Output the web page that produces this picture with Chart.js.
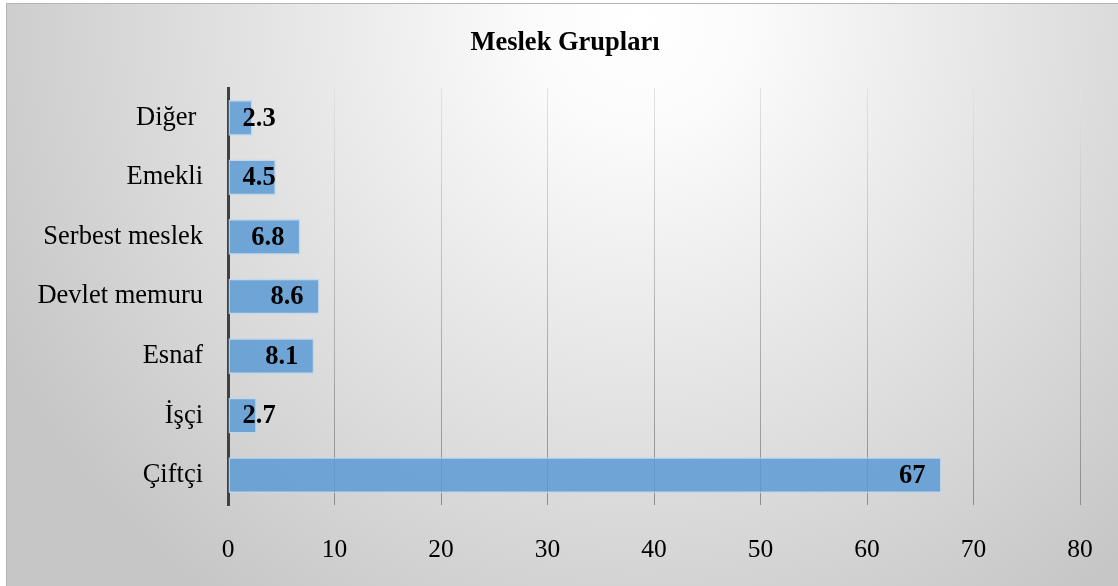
<!DOCTYPE html>
<html>
<head>
<meta charset="utf-8">
<script src="https://cdn.jsdelivr.net/npm/chart.js@4/dist/chart.umd.min.js"></script>
<style>
  html, body { margin: 0; padding: 0; background: #fff; }
  #wrap { width: 1118px; height: 586px; position: relative; }
</style>
</head>
<body>
<div id="wrap"><canvas id="chart"></canvas></div>
<script>
// ── DATA ──────────────────────────────────────────────────────────────────────
const categories = ['Diğer ', 'Emekli', 'Serbest meslek', 'Devlet memuru', 'Esnaf', 'İşçi', 'Çiftçi'];
const values     = [2.3, 4.5, 6.8, 8.6, 8.1, 2.7, 67];
const xTicks     = [0, 10, 20, 30, 40, 50, 60, 70, 80];
const titleText  = 'Meslek Grupları';

const FONT = '"Liberation Serif", "Times New Roman", serif';

// ── BACKGROUND (radial grey fade + frame) + TITLE ─────────────────────────────
const bgPlugin = {
  id: 'bg',
  beforeDraw(chart) {
    const c = chart.ctx;
    const w = chart.width, h = chart.height;
    c.save();
    c.fillStyle = '#fff';
    c.fillRect(0, 0, w, h);
    const g = c.createRadialGradient(640, 20, 0, 640, 20, 720);
    g.addColorStop(0, '#ffffff');
    g.addColorStop(0.15, '#fbfbfb');
    g.addColorStop(1, '#c6c6c6');
    c.fillStyle = g;
    c.fillRect(6, 3, w - 6, h - 3);
    c.strokeStyle = '#b4b4b4';
    c.lineWidth = 1;
    c.beginPath();
    c.moveTo(6.5, h); c.lineTo(6.5, 3.5); c.lineTo(w, 3.5);
    c.stroke();

    // title is centred over the whole frame, not the plot
    c.font = 'bold 26.5px ' + FONT;
    c.fillStyle = '#000';
    c.textAlign = 'center';
    c.textBaseline = 'middle';
    c.fillText(titleText, 565, 43);
    c.restore();
  }
};

// ── VALUE LABELS (inside end, pushed right when the bar is short) ─────────────
const labelPlugin = {
  id: 'valueLabels',
  afterDatasetsDraw(chart) {
    const c = chart.ctx;
    const meta = chart.getDatasetMeta(0);
    c.save();
    c.font = 'bold 26.5px ' + FONT;
    c.fillStyle = '#000';
    c.textAlign = 'right';
    c.textBaseline = 'middle';
    meta.data.forEach((bar, i) => {
      const txt = String(values[i]);
      const tw = c.measureText(txt).width;
      const x = Math.max(bar.x - 16, bar.base + 14 + tw);
      c.fillText(txt, x, bar.y + 1);
    });
    c.restore();
  }
};

// ── CHART ─────────────────────────────────────────────────────────────────────
const ctx = document.getElementById('chart').getContext('2d');

function gridColor(context) {
  const area = context.chart.chartArea;
  if (!area) return '#bbb';
  const g = context.chart.ctx.createLinearGradient(0, area.top, 0, area.bottom);
  g.addColorStop(0, '#e2e2e2');
  g.addColorStop(1, '#8c8c8c');
  return g;
}

new Chart(ctx, {
  type: 'bar',
  data: {
    labels: categories,
    datasets: [{
      data: values,
      backgroundColor: 'rgba(91,155,213,0.85)',
      borderColor: 'rgba(190,215,240,0.9)',
      borderWidth: 1.5,
      borderSkipped: false,
      categoryPercentage: 1,
      barPercentage: 0.6
    }]
  },
  options: {
    indexAxis: 'y',
    responsive: true,
    maintainAspectRatio: false,
    animation: false,
    layout: { padding: { top: 88, right: 38, bottom: 0, left: 0 } },
    plugins: {
      legend: { display: false },
      tooltip: { enabled: false },
      title: { display: false }
    },
    scales: {
      x: {
        min: 0,
        max: 80,
        afterBuildTicks: s => { s.ticks = xTicks.map(v => ({ value: v })); },
        afterFit: s => { s.height = 81; s.paddingLeft = 0; s.paddingRight = 0; },
        ticks: { color: '#000', padding: 30, font: { family: FONT, size: 25.5 } },
        grid: { color: gridColor, lineWidth: 1, drawTicks: false },
        border: { display: false }
      },
      y: {
        afterFit: s => { s.width = 228; s.paddingTop = 0; s.paddingBottom = 0; },
        ticks: { color: '#000', padding: 25, font: { family: FONT, size: 26.5 } },
        grid: { display: false, drawTicks: false },
        border: { display: true, color: '#404040', width: 3 }
      }
    }
  },
  plugins: [bgPlugin, labelPlugin]
});
</script>
</body>
</html>
